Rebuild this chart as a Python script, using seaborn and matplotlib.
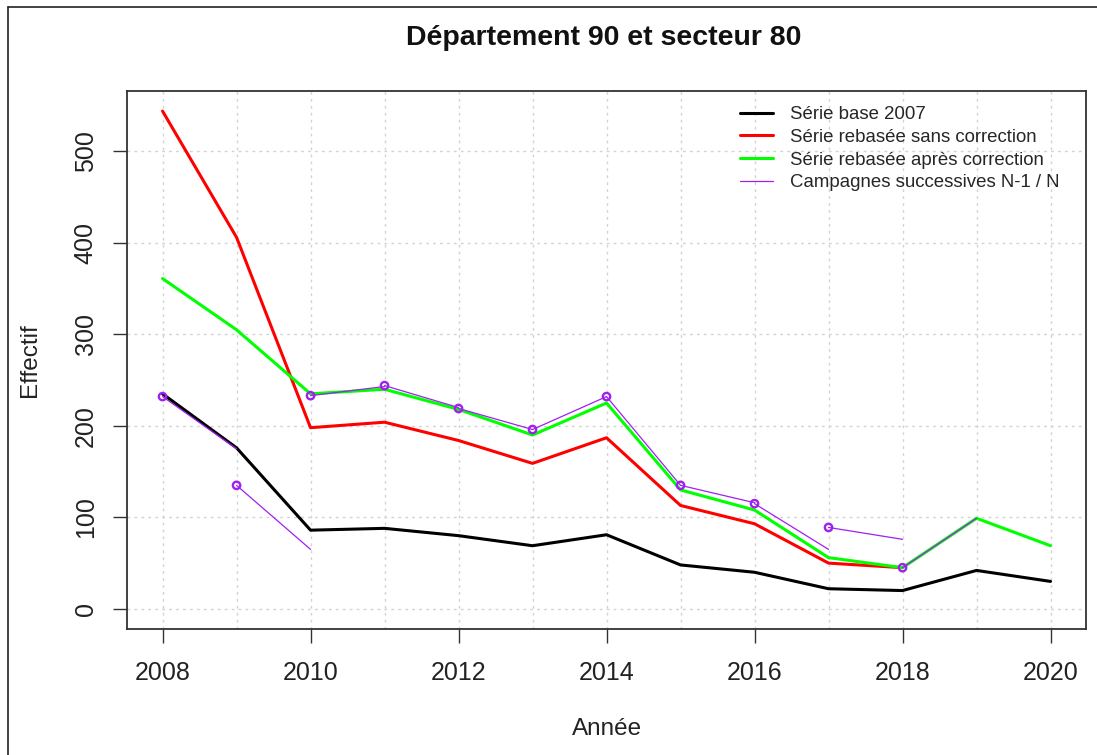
import pandas as pd
import matplotlib
matplotlib.use("Agg")
import matplotlib.pyplot as plt
from matplotlib.lines import Line2D
import seaborn as sns

# Values
years = list(range(2008, 2021))
serie_base_2007 = [235, 176, 86, 88, 80, 69, 81, 48, 40, 22, 20, 42, 30]
years_rebase = list(range(2008, 2019))
serie_sans_correction = [544, 406, 198, 204, 184, 159, 187, 113, 93, 50, 45]
serie_apres_correction = [361, 305, 235, 240, 218, 190, 225, 130, 108, 56, 45, 99, 69]

# Campagnes successives: one segment per campaign, from year N-1 to year N
campagne_debut = list(range(2008, 2019))
valeur_n_moins_1 = [232, 135, 233, 244, 219, 196, 232, 135, 115, 89, 45]
valeur_n = [175, 65, 243, 220, 196, 232, 135, 116, 65, 76, 99]

x_ticks = [2008, 2010, 2012, 2014, 2016, 2018, 2020]
y_ticks = [0, 100, 200, 300, 400, 500]

PURPLE = "#A020F0"

sns.set_theme(style="white")
plt.rcParams["font.family"] = ["Liberation Sans", "DejaVu Sans"]

df_base = pd.DataFrame({"annee": years, "effectif": serie_base_2007})
df_sans = pd.DataFrame({"annee": years_rebase, "effectif": serie_sans_correction})
df_apres = pd.DataFrame({"annee": years, "effectif": serie_apres_correction})

rows = []
for i, an in enumerate(campagne_debut):
    rows.append({"campagne": i, "annee": an, "effectif": valeur_n_moins_1[i]})
    rows.append({"campagne": i, "annee": an + 1, "effectif": valeur_n[i]})
df_camp = pd.DataFrame(rows)
df_start = pd.DataFrame({"annee": campagne_debut, "effectif": valeur_n_moins_1})

fig = plt.figure(figsize=(10.97, 7.55), dpi=100)
ax = fig.add_axes([0.1158, 0.1669, 0.8742, 0.7126])

# grid, R style dotted light grey
for yr in years:
    ax.axvline(yr, color="#D3D3D3", linestyle=(0, (2, 3)), linewidth=1, zorder=0)
for yv in y_ticks:
    ax.axhline(yv, color="#D3D3D3", linestyle=(0, (2, 3)), linewidth=1, zorder=0)

sns.lineplot(data=df_base, x="annee", y="effectif", color="black", linewidth=2.2, ax=ax, legend=False)
sns.lineplot(data=df_sans, x="annee", y="effectif", color="red", linewidth=2.2, ax=ax, legend=False)
sns.lineplot(data=df_apres, x="annee", y="effectif", color="#00FF00", linewidth=2.2, ax=ax, legend=False)
sns.lineplot(data=df_camp, x="annee", y="effectif", units="campagne", estimator=None,
             color=PURPLE, linewidth=0.9, ax=ax, legend=False)
sns.scatterplot(data=df_start, x="annee", y="effectif", marker="o", s=28,
                facecolor="none", edgecolor=PURPLE, linewidth=1.7, ax=ax, legend=False, zorder=5)

ax.set_xlim(2007.52, 2020.48)
ax.set_ylim(-22, 566)
ax.set_xticks(x_ticks)
ax.set_yticks(y_ticks)
ax.tick_params(axis="both", which="both", direction="out", length=10, width=1,
               bottom=True, left=True, color="#333333", labelsize=18, labelcolor="#222222")
ax.tick_params(axis="x", pad=13)
ax.tick_params(axis="y", pad=11)
for lab in ax.get_yticklabels():
    lab.set_rotation(90)
    lab.set_va("center")
for sp in ax.spines.values():
    sp.set_color("#333333")
    sp.set_linewidth(1.3)

ax.set_xlabel("Année", fontsize=17.5, color="#222222")
ax.set_ylabel("Effectif", fontsize=17.5, color="#222222", va="center")
ax.xaxis.set_label_coords(0.5, -0.165)
ax.yaxis.set_label_coords(-0.101, 0.5)

fig.suptitle("Département 90 et secteur 80", x=0.55, y=0.95, va="center",
             fontsize=20.5, fontweight="bold", color="#111111")

handles = [
    Line2D([], [], color="black", linewidth=2.2),
    Line2D([], [], color="red", linewidth=2.2),
    Line2D([], [], color="#00FF00", linewidth=2.2),
    Line2D([], [], color=PURPLE, linewidth=0.9),
]
labels = ["Série base 2007", "Série rebasée sans correction",
          "Série rebasée après correction", "Campagnes successives N-1 / N"]
ax.legend(handles, labels, loc="upper left", bbox_to_anchor=(0.639, 0.972),
          frameon=False, fontsize=13.4, labelspacing=0.31, handlelength=1.8,
          handletextpad=0.9, borderpad=0, borderaxespad=0)

# outer frame of the screenshot (left and top edges)
fig.add_artist(Line2D([8 / 1097, 8 / 1097], [0, 1 - 7 / 755], color="#222222", linewidth=1.2))
fig.add_artist(Line2D([8 / 1097, 1], [1 - 7 / 755, 1 - 7 / 755], color="#222222", linewidth=1.2))

fig.savefig("out.png", dpi=100)
